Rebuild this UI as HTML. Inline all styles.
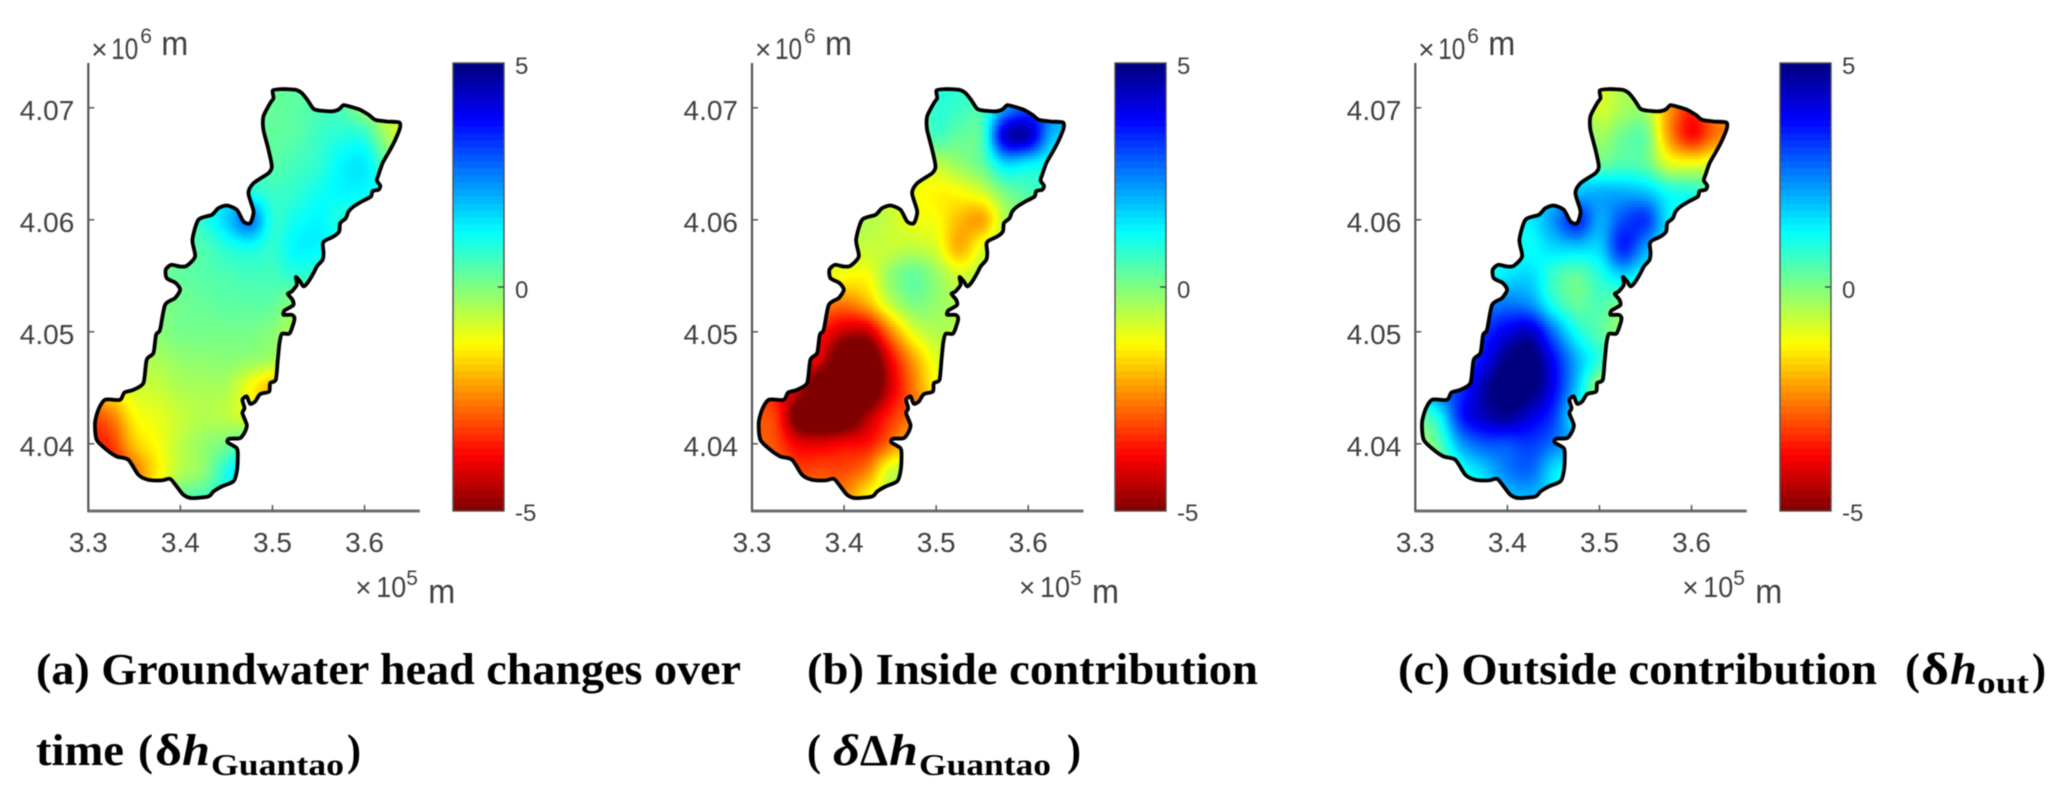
<!DOCTYPE html>
<html lang="en">
<head>
<meta charset="utf-8">
<title>Groundwater head changes</title>
<style>
html,body{margin:0;padding:0;background:#fff;width:2067px;height:797px;overflow:hidden}
svg{display:block;filter:blur(0.55px)}
.cap{font-family:"Liberation Serif","DejaVu Serif",serif;font-weight:700;font-size:44px;fill:#000}
.capi{font-style:italic}
.sub{font-size:31px}
.tick{font-family:"Liberation Sans",Arial,sans-serif;font-size:28px;fill:#404040}
.cb{font-size:24px}
.exp{font-family:"Liberation Sans",Arial,sans-serif;fill:#404040}
</style>
</head>
<body>
<svg id="chart" xmlns="http://www.w3.org/2000/svg" width="2067" height="797" viewBox="0 0 2067 797">
  <rect x="0" y="0" width="2067" height="797" fill="#fff"/>
  <g id="panels"></g>
  <g>
    <text class="cap" x="36" y="684" textLength="705" lengthAdjust="spacingAndGlyphs">(a) Groundwater head changes over</text>
    <text class="cap" x="36" y="765" textLength="88" lengthAdjust="spacingAndGlyphs">time</text>
    <text class="cap" x="138" y="765" textLength="15" lengthAdjust="spacingAndGlyphs">(</text>
    <text class="cap" x="155" y="765" textLength="27" lengthAdjust="spacingAndGlyphs">δ</text>
    <text class="cap capi" x="182" y="765" textLength="28" lengthAdjust="spacingAndGlyphs">h</text>
    <text class="cap sub" x="211" y="775" textLength="133" lengthAdjust="spacingAndGlyphs">Guantao</text>
    <text class="cap" x="347" y="765" textLength="14" lengthAdjust="spacingAndGlyphs">)</text>
  </g>
  <g>
    <text class="cap" x="807" y="684" textLength="451" lengthAdjust="spacingAndGlyphs">(b) Inside contribution</text>
    <text class="cap" x="807" y="765" textLength="14" lengthAdjust="spacingAndGlyphs">(</text>
    <text class="cap capi" x="833" y="765" textLength="27" lengthAdjust="spacingAndGlyphs">δ</text>
    <text class="cap" x="860" y="765" textLength="28" lengthAdjust="spacingAndGlyphs">Δ</text>
    <text class="cap capi" x="889" y="765" textLength="29" lengthAdjust="spacingAndGlyphs">h</text>
    <text class="cap sub" x="919" y="775" textLength="132" lengthAdjust="spacingAndGlyphs">Guantao</text>
    <text class="cap" x="1067" y="765" textLength="14" lengthAdjust="spacingAndGlyphs">)</text>
  </g>
  <g>
    <text class="cap" x="1398" y="684" textLength="479" lengthAdjust="spacingAndGlyphs">(c) Outside contribution</text>
    <text class="cap" x="1905" y="684" textLength="15" lengthAdjust="spacingAndGlyphs">(</text>
    <text class="cap" x="1921" y="684" textLength="28" lengthAdjust="spacingAndGlyphs">δ</text>
    <text class="cap capi" x="1950" y="684" textLength="27" lengthAdjust="spacingAndGlyphs">h</text>
    <text class="cap sub" x="1977" y="693" textLength="52" lengthAdjust="spacingAndGlyphs">out</text>
    <text class="cap" x="2032" y="684" textLength="14" lengthAdjust="spacingAndGlyphs">)</text>
  </g>
</svg>
<script>
// Axis tick values (km) and printed labels
const xTicks = [330, 340, 350, 360];
const xTickLabels = ['3.3', '3.4', '3.5', '3.6'];
const yTicks = [4040, 4050, 4060, 4070];
const yTickLabels = ['4.04', '4.05', '4.06', '4.07'];
const colorTicks = [-5, 0, 5];
const colorTickLabels = ['-5', '0', '5'];

// Aquifer boundary in map units (km)
const boundaryEast = [350.04,351.02,352.47,353.19,353.84,354.46,355.36,356.63,357.25,357.72,358.63,359.53,360.44,361.16,362.43,363.77,363.84,363.34,362.68,361.96,361.52,361.34,361.71,361.52,360.87,360.69,359.71,358.81,358.26,357.97,357.36,357.25,356.63,355.73,355.47,355.55,355.44,354.82,354.46,353.84,353.37,353.01,352.54,352.65,352.10,351.67,352.18,352.28,351.74,351.31,351.20,352.10,352.39,352.18,351.81,351.02,350.76,350.58,350.36,349.75,349.64,348.66,348.12,347.57,347.21,346.74,346.96,346.74,347.21,347.03,346.49,345.29,345.15,346.13,346.23,346.13,345.76,344.50,343.59,343.05,341.23,340.33,339.60,338.88,337.97,336.52,335.44,334.35,333.08,332.00,330.91,330.73,331.09,331.81,333.44,333.92,334.89,335.98,336.34,337.07,337.36,337.79,338.34,339.42,339.97,339.50,338.52,338.41,338.99,339.97,340.69,341.60,341.31,341.96,343.41,344.13,345.04,346.13,346.85,347.57,347.94,347.39,347.94,349.57,349.93,349.57,349.02,349.02,349.75,350.11];
const boundaryNorth = [4071.55,4071.67,4071.61,4071.31,4070.65,4069.91,4069.73,4069.70,4069.88,4070.24,4070.06,4069.82,4069.38,4068.93,4068.78,4068.69,4068.18,4067.14,4066.10,4065.06,4064.02,4063.51,4063.04,4062.68,4062.56,4062.08,4061.64,4061.19,4060.74,4060.15,4059.70,4058.96,4058.51,4058.15,4057.86,4057.02,4056.43,4055.83,4055.24,4054.40,4054.05,4054.49,4054.88,4054.20,4053.60,4053.39,4052.86,4052.41,4052.11,4051.90,4051.52,4051.52,4051.22,4050.48,4049.82,4049.82,4048.99,4047.50,4045.71,4045.42,4044.67,4044.43,4043.78,4043.57,4044.23,4043.93,4043.18,4042.74,4041.70,4041.10,4040.51,4040.45,4040.12,4039.61,4038.87,4037.53,4036.64,4036.19,4035.74,4035.30,4035.15,4035.45,4036.19,4036.87,4036.73,4036.79,4037.23,4038.57,4038.87,4039.46,4040.36,4041.85,4043.04,4043.93,4043.93,4044.58,4044.82,4045.42,4047.50,4048.10,4049.73,4050.18,4052.41,4053.01,4053.75,4054.35,4054.79,4055.54,4055.98,4055.83,4055.89,4056.73,4058.21,4060.00,4060.45,4061.04,4061.28,4060.89,4059.85,4059.70,4060.74,4062.38,4063.27,4064.17,4064.76,4066.25,4068.04,4069.23,4070.42,4070.86];

// Field sample nodes (km)
const gridEast = [330,332.5,335,337.5,340,342.5,345,347.5,350,352.5,355,357.5,360,362.5,365];
const gridNorth = [4072.5,4070,4067.5,4065,4062.5,4060,4057.5,4055,4052.5,4050,4047.5,4045,4042.5,4040,4037.5,4035];

// (a) groundwater head change, metres, rows north to south
const valuesA = [
[.3,.3,.3,.3,.3,.3,.3,.3,.25,.35,.5,.5,-.1,-.6,-1],
[.3,.3,.3,.3,.3,.3,.3,.3,.25,.35,.5,.5,-.2,-.7,-1],
[.3,.3,.3,.3,.3,.3,.3,.3,.3,.4,.7,.9,.8,-.4,-1],
[.5,.5,.5,.5,.5,.5,.5,.6,.4,.6,.8,1.3,1.4,.3,-.6],
[.8,.8,.8,.8,.8,.8,1.2,1,.7,.8,1.1,1.3,1.25,1,.3],
[.6,.6,.6,.6,.6,.9,1.7,2.6,.9,1.1,1.3,.9,.8,.6,.3],
[.2,.2,.2,.2,.3,.5,.9,1.1,.8,1.3,1.3,1,.8,.6,.4],
[.1,.1,.1,.1,.3,.4,.5,.6,.6,.8,.6,.5,.3,.3,.3],
[0,0,0,0,.15,.25,.35,.35,.3,-.2,-.2,-.2,-.2,-.2,-.2],
[-.2,-.2,-.2,-.1,.1,.1,.1,.1,-.1,-.5,-.6,-.6,-.6,-.6,-.6],
[-.6,-.5,-.4,-.4,-.2,-.15,-.1,-.2,-.4,-.6,-.6,-.6,-.6,-.6,-.6],
[-1.6,-1.2,-.8,-.7,-.45,-.4,-.45,-1.2,-1.9,-1.9,-1.9,-1.9,-1.9,-1.9,-1.9],
[-3.1,-2.5,-1.3,-1,-.7,-.5,-.6,-.9,-1,-1,-1,-1,-1,-1,-1],
[-3.6,-3.2,-1.8,-1.2,-.6,-.2,.1,.6,.6,.6,.6,.6,.6,.6,.6],
[-3.6,-3.5,-2.6,-1.4,-.5,-.1,1,2,2,2,2,2,2,2,2],
[-3,-2.8,-1.8,-1,.3,.6,.9,1.6,1.6,1.6,1.6,1.6,1.6,1.6,1.6]
];

// (b) inside contribution, metres, rows north to south
const valuesB = [
[-.5,-.5,-.5,-.5,-.5,-.5,-.5,-.2,.8,.8,.6,2,2.6,2.4,2],
[-.5,-.5,-.5,-.5,-.5,-.5,-.5,-.2,.8,.7,.6,2.2,3,2.6,2],
[-.5,-.5,-.5,-.5,-.5,-.5,-.5,-.2,.6,.3,.6,4.2,4.4,2,1.6],
[-.6,-.6,-.6,-.6,-.6,-.6,-.7,-.8,-.6,-.2,.3,1.6,1.4,1.1,1],
[-.6,-.6,-.6,-.6,-.6,-.6,-.8,-1.1,-1.3,-1.2,-.8,.1,.5,.6,.6],
[-.5,-.5,-.5,-.5,-.5,-.5,-.7,-1.1,-1.2,-1.9,-2.1,-.5,0,.2,.2],
[-.8,-.8,-.8,-.8,-.8,-.7,-.7,-.6,-.9,-2,-1,-.3,-.2,-.2,-.2],
[-1,-1,-1,-1,-1.2,-1.2,-.2,.3,-.2,-.8,-.5,-.4,-.4,-.4,-.4],
[-2.2,-2.2,-2.3,-2.4,-2.6,-2,-.7,0,-.2,-.5,-.5,-.5,-.5,-.5,-.5],
[-3.2,-3.2,-3.4,-3.6,-4.3,-4.3,-2.5,-1,-.5,-.6,-.6,-.6,-.6,-.6,-.6],
[-3.4,-3.4,-3.5,-4.2,-6,-6,-3.9,-2.2,-1,-.8,-.8,-.8,-.8,-.8,-.8],
[-3.4,-3.6,-4.2,-6,-6.5,-6.1,-4.2,-2.6,-1.3,-1.2,-1.2,-1.2,-1.2,-1.2,-1.2],
[-3,-3.2,-5.4,-6.2,-6,-4.6,-3.4,-2.6,-1.8,-1.8,-1.8,-1.8,-1.8,-1.8,-1.8],
[-2.8,-3,-3.9,-4,-3.8,-3.6,-2.6,-1.5,-1,-1,-1,-1,-1,-1,-1],
[-2.6,-2.6,-3.1,-3,-3,-2.4,-.8,-.5,-.5,-.5,-.5,-.5,-.5,-.5,-.5],
[-2.6,-2.6,-2.8,-2.6,-2.4,-1.2,-.7,-.5,-.5,-.5,-.5,-.5,-.5,-.5,-.5]
];

// (c) outside contribution, metres, rows north to south
const valuesC = [
[1,1,1,1,1,1,1,.2,-.8,-.4,-.4,-2,-3.2,-2.6,-2.2],
[1,1,1,1,1,1,1,.2,-.8,-.4,-.4,-2.2,-3.4,-2.6,-2.2],
[1,1,1,1,1,1,1,.4,-.3,.2,.2,-2.2,-3.6,-2.6,-2.2],
[1.2,1.2,1.2,1.2,1.2,1.2,1.2,1,.3,.5,.3,-.9,-1.1,-.9,-.8],
[1.4,1.4,1.4,1.4,1.4,1.4,1.6,1.8,2,2,1.8,1.1,.9,.5,.4],
[1.4,1.4,1.4,1.4,1.4,1.4,2.3,3.4,2.1,3,3.2,1.4,1,.8,.6],
[1.2,1.2,1.2,1.2,1.2,1.2,1.6,1.7,1.7,3.4,2.2,1.2,1,.8,.6],
[1,1,1,1.1,1.5,1.6,.7,.3,.9,1.6,1,.8,.6,.6,.6],
[2.2,2.2,2.3,2.4,2.6,2.3,1,.3,.5,0,0,0,0,0,0],
[3,3,3.1,3.3,4,4.3,2.6,1.1,.4,-.2,-.2,-.2,-.2,-.2,-.2],
[2.8,2.9,3,3.8,5,5.3,3.7,2,.8,.2,.2,.2,.2,.2,.2],
[2,2.8,3.3,4.6,5.4,5.2,3.8,1.8,-.3,-.3,-.3,-.3,-.3,-.3,-.3],
[.3,1.2,3.5,4.4,4.8,4.1,3.2,1.2,.6,.6,.6,.6,.6,.6,.6],
[-.5,.4,2.2,2.9,3,3.2,2.6,1.8,1,1,1,1,1,1,1],
[-.5,-.2,1,1.7,2.5,2.7,1.5,1,1,1,1,1,1,1,1],
[-.5,0,.8,1.2,1.8,1.9,1.5,1,1,1,1,1,1,1,1]
];

const panelKeys = ['a', 'b', 'c'];
const panelValues = [valuesA, valuesB, valuesC];
const panelSpine = [88.3, 752, 1415.3];
const panelBar = [453, 1115, 1780];

const NS = 'http://www.w3.org/2000/svg';
const root = document.getElementById('panels');
const axisTop = 63, axisBottom = 511, axisWidth = 331.5, barWidth = 51;
const eastMin = 330, eastMax = 366, northMin = 4034, northMax = 4074;

function make(tag, attrs, parent, txt) {
  const el = document.createElementNS(NS, tag);
  for (const k in attrs) el.setAttribute(k, attrs[k]);
  if (txt !== undefined) el.textContent = txt;
  parent.appendChild(el);
  return el;
}
function xScale(east, spine) { return spine + (east - eastMin) / (eastMax - eastMin) * axisWidth; }
function yScale(north) { return axisBottom - (north - northMin) / (northMax - northMin) * (axisBottom - axisTop); }
function colorScale(v) { return axisBottom - (v + 5) / 10 * (axisBottom - axisTop); }

function jet(v) {
  const t = 1 - (Math.max(-5, Math.min(5, v)) + 5) / 10;
  const ramp = function (d) { return Math.round(255 * Math.max(0, Math.min(1, 1.5 - Math.abs(4 * t - d)))); };
  return 'rgb(' + ramp(3) + ',' + ramp(2) + ',' + ramp(1) + ')';
}
function cubic(a, b, c, d, t) {
  return b + 0.5 * t * (c - a + t * (2 * a - 5 * b + 4 * c - d + t * (3 * (b - c) + d - a)));
}
function sampleField(values, east, north) {
  const dx = gridEast[1] - gridEast[0];
  const dy = gridNorth[1] - gridNorth[0];
  const fx = (east - gridEast[0]) / dx, fy = (north - gridNorth[0]) / dy;
  const ix = Math.floor(fx), iy = Math.floor(fy);
  const tx = fx - ix, ty = fy - iy;
  const rowAt = function (r) {
    const row = values[Math.max(0, Math.min(values.length - 1, r))];
    const at = function (c) { return row[Math.max(0, Math.min(row.length - 1, c))]; };
    return cubic(at(ix - 1), at(ix), at(ix + 1), at(ix + 2), tx);
  };
  return cubic(rowAt(iy - 1), rowAt(iy), rowAt(iy + 1), rowAt(iy + 2), ty);
}
function inside(east, north) {
  let hit = false;
  for (let i = 0, j = boundaryEast.length - 1; i < boundaryEast.length; j = i++) {
    if ((boundaryNorth[i] > north) !== (boundaryNorth[j] > north) &&
        east < (boundaryEast[j] - boundaryEast[i]) * (north - boundaryNorth[i]) / (boundaryNorth[j] - boundaryNorth[i]) + boundaryEast[i]) {
      hit = !hit;
    }
  }
  return hit;
}
function boundaryPath(spine) {
  const n = boundaryEast.length;
  const px = function (i) { return xScale(boundaryEast[(i + n) % n], spine); };
  const py = function (i) { return yScale(boundaryNorth[(i + n) % n]); };
  let d = 'M' + px(0).toFixed(1) + ' ' + py(0).toFixed(1);
  for (let i = 0; i < n; i++) {
    const c1x = px(i) + (px(i + 1) - px(i - 1)) / 8, c1y = py(i) + (py(i + 1) - py(i - 1)) / 8;
    const c2x = px(i + 1) - (px(i + 2) - px(i)) / 8, c2y = py(i + 1) - (py(i + 2) - py(i)) / 8;
    d += 'C' + c1x.toFixed(1) + ' ' + c1y.toFixed(1) + ' ' + c2x.toFixed(1) + ' ' + c2y.toFixed(1) + ' ' + px(i + 1).toFixed(1) + ' ' + py(i + 1).toFixed(1);
  }
  return d + 'Z';
}

panelKeys.forEach(function (key, p) {
  const spine = panelSpine[p], bar = panelBar[p], values = panelValues[p];
  const panel = make('g', {}, root);
  
  

  const defs = make('defs', {}, panel);
  const clip = make('clipPath', { id: 'clip-' + key }, defs);
  make('path', { d: boundaryPath(spine) }, clip);

  // Heatmap cells
  const field = make('g', { 'clip-path': 'url(#clip-' + key + ')', 'shape-rendering': 'crispEdges' }, panel);
  
  
  const step = 3;
  for (let y = axisTop; y < axisBottom; y += step) {
    for (let x = spine; x < spine + axisWidth; x += step) {
      const east = eastMin + (x + step / 2 - spine) / axisWidth * (eastMax - eastMin);
      const north = northMin + (axisBottom - y - step / 2) / (axisBottom - axisTop) * (northMax - northMin);
      const reach = 0.45;
      if (!inside(east, north) && !inside(east - reach, north) && !inside(east + reach, north) && !inside(east, north - reach) && !inside(east, north + reach)) continue;
      const cell = make('rect', { x: x, y: y, width: step + 0.4, height: step + 0.4, fill: jet(sampleField(values, east, north)) }, field);
      
      
    }
  }

  const outline = make('path', { d: boundaryPath(spine), fill: 'none', stroke: '#000', 'stroke-width': 3.8, 'stroke-linejoin': 'round' }, panel);
  
  

  // Axes
  const yAxis = make('line', { x1: spine, x2: spine, y1: axisTop, y2: axisBottom, stroke: '#555', 'stroke-width': 2.2 }, panel);
  
  
  const xAxis = make('line', { x1: spine - 1, x2: spine + axisWidth, y1: axisBottom, y2: axisBottom, stroke: '#6e6e6e', 'stroke-width': 3 }, panel);
  
  

  xTicks.forEach(function (t, i) {
    const tx = xScale(t, spine);
    const mark = make('line', { x1: tx, x2: tx, y1: axisBottom, y2: axisBottom - 6, stroke: '#555', 'stroke-width': 1.5 }, panel);
    
    
    const label = make('text', { class: 'tick', x: tx, y: 552, 'text-anchor': 'middle' }, panel, xTickLabels[i]);
    
    
  });
  yTicks.forEach(function (t, i) {
    const ty = yScale(t);
    const mark = make('line', { x1: spine, x2: spine + 6, y1: ty, y2: ty, stroke: '#555', 'stroke-width': 1.5 }, panel);
    
    
    const label = make('text', { class: 'tick', x: spine - 14, y: ty + 12, 'text-anchor': 'end' }, panel, yTickLabels[i]);
    
    
  });

  // Axis exponents and units
  const yUnit = make('g', {}, panel);
  
  
  make('text', { class: 'exp', x: spine + 3, y: 59, 'font-size': 28, fill: '#777' }, yUnit, '×');
  make('text', { class: 'exp', x: spine + 23, y: 59, 'font-size': 30, textLength: 27, lengthAdjust: 'spacingAndGlyphs' }, yUnit, '10');
  make('text', { class: 'exp', x: spine + 52, y: 43, 'font-size': 21 }, yUnit, '6');
  make('text', { class: 'exp', x: spine + 73, y: 55, 'font-size': 34, textLength: 27, lengthAdjust: 'spacingAndGlyphs', fill: '#333' }, yUnit, 'm');

  const xUnit = make('g', {}, panel);
  
  
  make('text', { class: 'exp', x: spine + 267, y: 597, 'font-size': 28, fill: '#777' }, xUnit, '×');
  make('text', { class: 'exp', x: spine + 288, y: 597, 'font-size': 29, textLength: 30, lengthAdjust: 'spacingAndGlyphs' }, xUnit, '10');
  make('text', { class: 'exp', x: spine + 318, y: 585, 'font-size': 21 }, xUnit, '5');
  make('text', { class: 'exp', x: spine + 340, y: 603, 'font-size': 34, textLength: 27, lengthAdjust: 'spacingAndGlyphs', fill: '#333' }, xUnit, 'm');

  // Colorbar
  const cbar = make('g', {}, panel);
  
  
  const levels = 64;
  for (let i = 0; i < levels; i++) {
    const lo = -5 + 10 * i / levels, hi = -5 + 10 * (i + 1) / levels;
    const band = make('rect', { x: bar, y: colorScale(hi), width: barWidth, height: colorScale(lo) - colorScale(hi) + 0.6, fill: jet((lo + hi) / 2), 'shape-rendering': 'crispEdges' }, cbar);
    
    
  }
  const frame = make('rect', { x: bar, y: axisTop, width: barWidth, height: axisBottom - axisTop, fill: 'none', stroke: '#505050', 'stroke-width': 1.4 }, cbar);
  
  
  colorTicks.forEach(function (v, i) {
    const ty = colorScale(v);
    if (v === 0) {
      const mark = make('line', { x1: bar + barWidth - 6, x2: bar + barWidth, y1: ty, y2: ty, stroke: '#444', 'stroke-width': 1.4 }, cbar);
      
      
    }
    const label = make('text', { class: 'tick cb', x: bar + barWidth + 11, y: v === 5 ? 74 : (v === 0 ? 298 : 521) }, cbar, colorTickLabels[i]);
    
    
  });
});
</script>
</body>
</html>
